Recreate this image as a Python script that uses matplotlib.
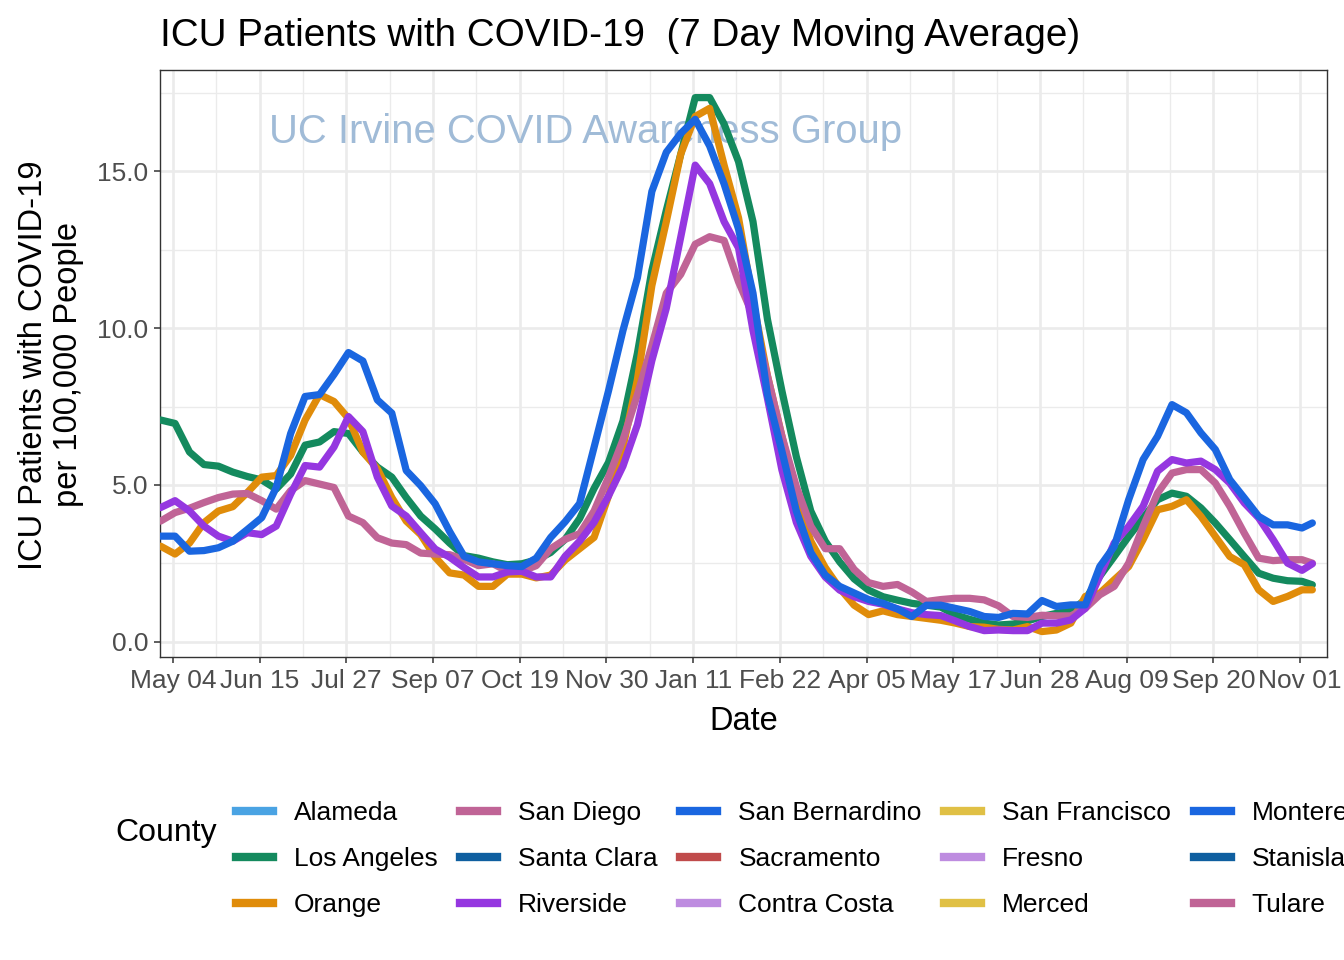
import numpy as np
import pandas as pd
import matplotlib
matplotlib.use('Agg')
import matplotlib.pyplot as plt
import matplotlib.dates as mdates
from matplotlib.lines import Line2D

plt.rcParams['font.family'] = ['Liberation Sans', 'DejaVu Sans']

# weekly samples (Apr 28 2020 .. Nov 07 2021)
dates = list(pd.date_range('2020-04-28', periods=80, freq='7D')) + [pd.Timestamp('2021-11-07')]

los_angeles = [7.07, 6.96, 6.05, 5.65, 5.6, 5.41, 5.27, 5.16, 4.87, 5.35, 6.27, 6.37, 6.7, 6.64, 6.05, 5.57, 5.25, 4.6, 4.01, 3.6, 3.15,
               2.75, 2.67, 2.55, 2.46, 2.49, 2.61, 2.85, 3.27, 3.93, 4.89, 5.72, 7.04, 9.2, 11.83, 13.75, 15.54, 17.34, 17.34,
               16.5, 15.3, 13.39, 10.28, 8.0, 5.9, 4.17, 3.21, 2.55, 2.01, 1.65, 1.44, 1.33, 1.23, 1.17, 1.11,
               0.86, 0.72, 0.6, 0.54, 0.57, 0.67, 0.81, 0.91, 1.0, 1.34, 2.09, 2.72, 3.36, 3.95, 4.53, 4.74, 4.64, 4.27, 3.79, 3.26,
               2.72, 2.19, 2.03, 1.95, 1.93, 1.82]
orange = [3.05, 2.8, 3.15, 3.8, 4.17, 4.31, 4.76, 5.25, 5.3, 5.94, 7.07, 7.88, 7.66, 7.12, 6.05, 5.52, 4.6, 3.85, 3.42, 2.7, 2.2,
          2.13, 1.77, 1.77, 2.16, 2.16, 2.04, 2.13, 2.61, 2.97, 3.33, 4.65, 6.2, 8.36, 11.35, 13.39, 15.54, 16.74, 17.0,
          15.19, 13.51, 10.87, 8.48, 6.56, 4.65, 3.21, 2.37, 1.71, 1.17, 0.87, 0.99, 0.87, 0.81, 0.75, 0.69,
          0.6, 0.49, 0.47, 0.4, 0.38, 0.49, 0.33, 0.38, 0.6, 1.45, 1.55, 1.98, 2.4, 3.26, 4.21, 4.32, 4.53, 4.0, 3.36, 2.72,
          2.46, 1.66, 1.29, 1.45, 1.66, 1.66]
san_diego = [3.85, 4.12, 4.26, 4.44, 4.6, 4.71, 4.73, 4.5, 4.23, 4.82, 5.14, 5.03, 4.92, 4.01, 3.8, 3.32, 3.15, 3.1, 2.83, 2.8, 2.78,
             2.63, 2.43, 2.49, 2.25, 2.25, 2.43, 2.97, 3.27, 3.45, 4.17, 5.25, 6.44, 7.88, 9.44, 11.11, 11.71, 12.67, 12.91,
             12.79, 11.47, 10.4, 8.48, 6.56, 4.95, 3.69, 2.97, 2.97, 2.31, 1.89, 1.77, 1.83, 1.59, 1.29, 1.35,
             1.39, 1.39, 1.34, 1.15, 0.81, 0.78, 0.85, 0.83, 0.83, 1.07, 1.5, 1.77, 2.51, 3.68, 4.74, 5.38, 5.49, 5.49, 5.06, 4.32,
             3.47, 2.67, 2.59, 2.62, 2.62, 2.51]
riverside = [4.28, 4.5, 4.17, 3.69, 3.37, 3.21, 3.48, 3.42, 3.69, 4.71, 5.62, 5.57, 6.21, 7.18, 6.7, 5.25, 4.33, 4.01, 3.48, 2.96, 2.7,
             2.37, 2.07, 2.07, 2.23, 2.25, 2.07, 2.07, 2.73, 3.21, 3.81, 4.65, 5.6, 6.92, 8.96, 10.63, 12.9, 15.19, 14.6,
             13.39, 12.55, 9.92, 7.76, 5.48, 3.81, 2.73, 2.07, 1.65, 1.44, 1.29, 1.2, 1.05, 0.93, 0.87, 0.84,
             0.67, 0.49, 0.36, 0.38, 0.36, 0.36, 0.6, 0.6, 0.7, 1.07, 2.09, 3.15, 3.68, 4.32, 5.44, 5.81, 5.7, 5.76, 5.49, 5.06,
             4.43, 3.95, 3.26, 2.51, 2.28, 2.49]
san_bernardino = [3.37, 3.37, 2.89, 2.91, 3.0, 3.21, 3.58, 3.96, 4.92, 6.64, 7.82, 7.88, 8.52, 9.22, 8.95, 7.71, 7.29, 5.46, 4.98, 4.4, 3.52,
                  2.73, 2.55, 2.49, 2.43, 2.4, 2.67, 3.33, 3.83, 4.41, 6.2, 8.0, 9.92, 11.6, 14.35, 15.6, 16.2, 16.65, 15.8,
                  14.59, 13.15, 11.11, 7.88, 6.08, 4.17, 2.85, 2.13, 1.77, 1.56, 1.35, 1.23, 1.05, 0.81, 1.17, 1.17,
                  1.07, 0.97, 0.81, 0.78, 0.91, 0.89, 1.32, 1.13, 1.18, 1.18, 2.4, 3.04, 4.53, 5.81, 6.55, 7.56, 7.3, 6.66, 6.13, 5.17,
                  4.59, 4.0, 3.73, 3.73, 3.63, 3.79]

counties = ['Alameda', 'Los Angeles', 'Orange', 'San Diego', 'Santa Clara', 'Riverside', 'San Bernardino',
            'Sacramento', 'Contra Costa', 'San Francisco', 'Fresno', 'Merced', 'Monterey', 'Stanislaus', 'Tulare']
colors = ['#4AA3E3', '#148A5E', '#E08C0A', '#C06496', '#0F5FA0', '#9537E0', '#1A66E0',
          '#C04B4B', '#BE8CE0', '#E0C045', '#BE8CE0', '#E0C045', '#1A66E0', '#0F5FA0', '#C06496']
series = {'Los Angeles': los_angeles, 'Orange': orange, 'San Diego': san_diego,
          'Riverside': riverside, 'San Bernardino': san_bernardino}

W, H = 1344, 960
fig = plt.figure(figsize=(W / 100, H / 100), dpi=100)
ax = fig.add_axes([160 / W, 1 - 657 / H, (1327 - 160) / W, (657 - 70) / H])

for name, col in zip(counties, colors):
    if name in series:
        ax.plot(dates, series[name], color=col, lw=5.2, solid_joinstyle='round', solid_capstyle='round', zorder=3)

t0 = pd.Timestamp('2020-05-04')
ax.set_xlim(t0 - pd.Timedelta(days=6.3), t0 + pd.Timedelta(days=559.1))
ax.set_ylim(-0.48, 18.22)

xt = pd.date_range(t0, periods=14, freq='42D')
ax.set_xticks(xt)
ax.set_xticklabels([d.strftime('%b %d') for d in xt])
ax.set_xticks(pd.date_range(t0 + pd.Timedelta(days=21), periods=13, freq='42D'), minor=True)
ax.set_yticks([0, 5, 10, 15])
ax.set_yticklabels(['0.0', '5.0', '10.0', '15.0'])
ax.set_yticks([2.5, 7.5, 12.5, 17.5], minor=True)

ax.grid(which='major', color='#EBEBEB', lw=1.9, zorder=0)
ax.grid(which='minor', color='#EBEBEB', lw=0.95, zorder=0)
ax.set_axisbelow(True)
ax.tick_params(which='major', length=4.5, width=1.1, color='#333333', labelcolor='#4D4D4D', labelsize=19, pad=4)
ax.tick_params(which='minor', length=0)
for s in ax.spines.values():
    s.set_color('#333333')
    s.set_linewidth(1.0)

ax.text(pd.Timestamp('2020-11-20'), 16.25, 'UC Irvine COVID Awareness Group', ha='center', va='center',
        fontsize=28.8, color='#A0BBD7', zorder=2)

fig.text(160 / W, 1 - 36 / H, 'ICU Patients with COVID-19  (7 Day Moving Average)', ha='left', va='center',
         fontsize=27.8, color='black')
fig.text(743.5 / W, 1 - 721 / H, 'Date', ha='center', va='center', fontsize=23.5)
fig.text(51 / W, 1 - 365 / H, 'ICU Patients with COVID-19\nper 100,000 People', ha='center', va='center',
         rotation=90, fontsize=23.5, multialignment='center')

handles = [Line2D([], [], color=c, lw=6) for c in colors]
fig.legend(handles, counties, ncol=5, loc='upper left', bbox_to_anchor=(236 / W, 1 - 801 / H),
           frameon=False, fontsize=19, handlelength=1.4, handletextpad=0.8, columnspacing=0.85,
           labelspacing=0.83, borderpad=0, borderaxespad=0)
fig.text(115 / W, 1 - 833 / H, 'County', ha='left', va='center', fontsize=23)

fig.savefig('out.png', dpi=100)
